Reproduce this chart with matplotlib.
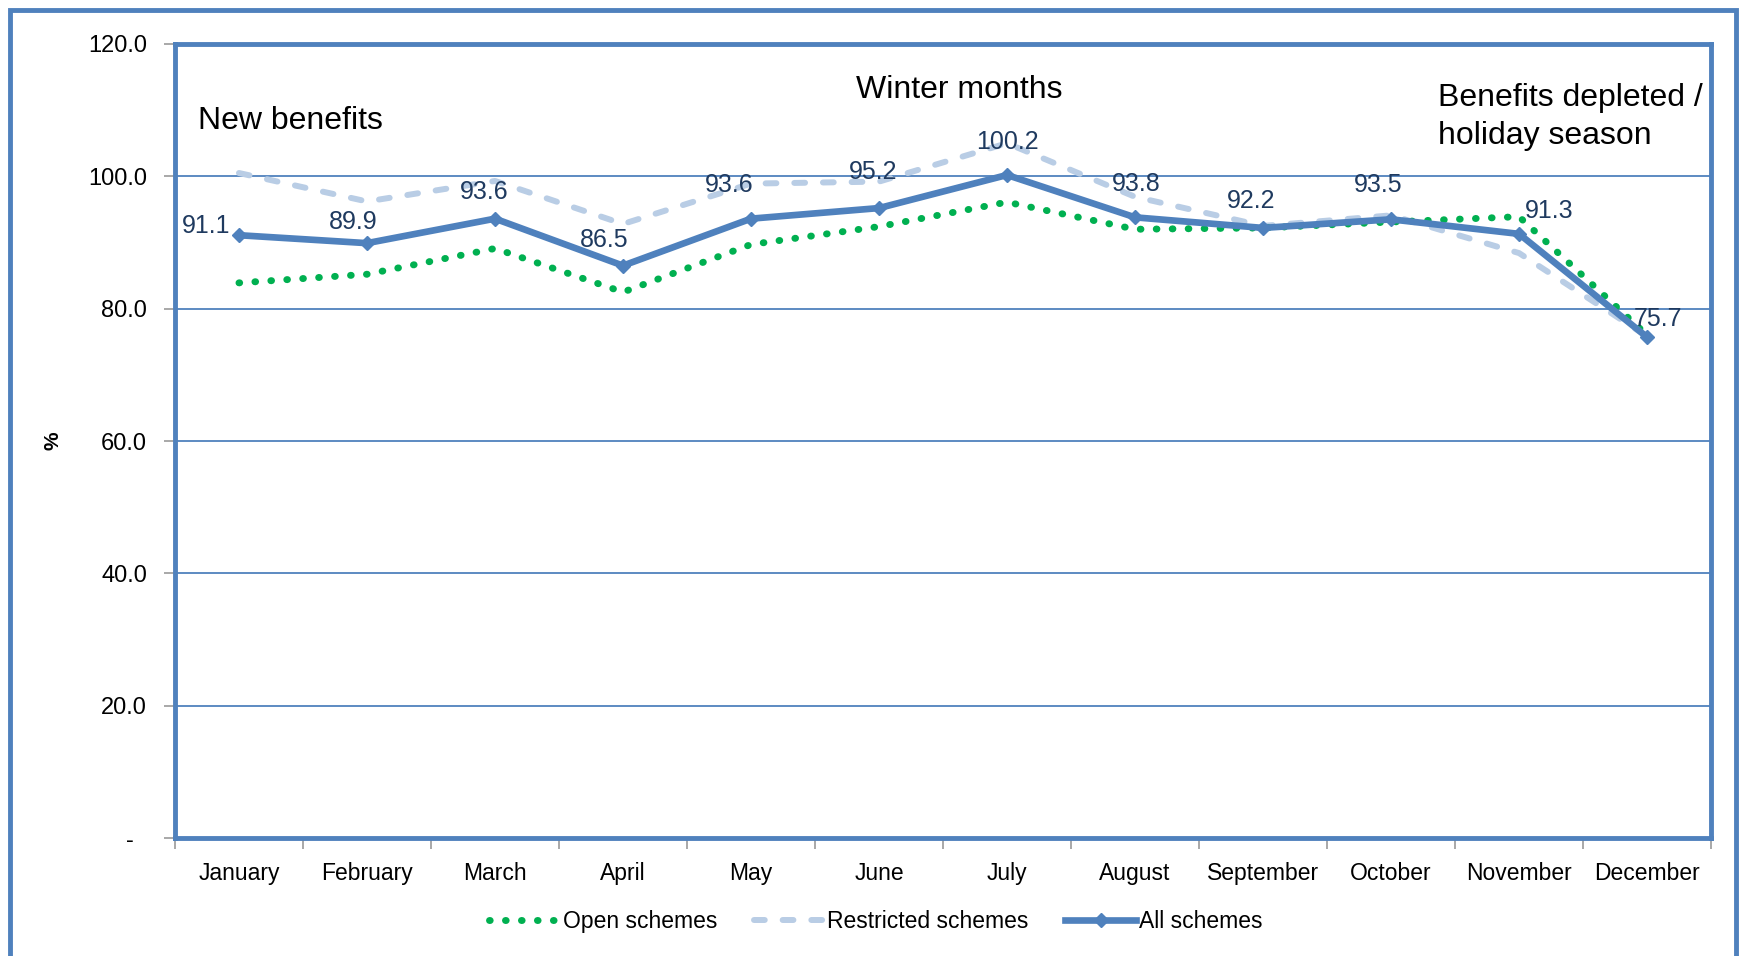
import matplotlib.pyplot as plt
import numpy as np
from matplotlib.patches import Rectangle

# values
months = ['January', 'February', 'March', 'April', 'May', 'June', 'July',
          'August', 'September', 'October', 'November', 'December']
open_schemes = [83.9, 85.2, 89.1, 82.5, 89.7, 92.4, 96.1, 92.0, 92.2, 93.1, 93.9, 76.0]
restricted_schemes = [100.5, 96.2, 99.3, 92.8, 98.9, 99.2, 105.0, 96.9, 92.5, 94.1, 88.4, 75.8]
all_schemes = [91.1, 89.9, 93.6, 86.5, 93.6, 95.2, 100.2, 93.8, 92.2, 93.5, 91.3, 75.7]
yticks = [0, 20, 40, 60, 80, 100, 120]
ytick_labels = ['-  ', '20.0', '40.0', '60.0', '80.0', '100.0', '120.0']

# label offsets (pixels) so the numbers sit where the original has them
label_offsets = [(-33, 9), (-14, 21), (-11, 27), (-19, 26), (-22, 34), (-6, 36),
                 (0, 33), (1, 33), (-12, 27), (-13, 34), (30, 23), (11, 18)]

plt.rcParams['font.family'] = ['Liberation Sans', 'DejaVu Sans']

blue = '#4F81BD'
light_blue = '#B9CDE5'
green = '#00B050'
navy = '#1F3A5F'

fig = plt.figure(figsize=(17.41, 9.56), dpi=100)
ax = fig.add_axes([0.1005, 0.1234, 0.8823, 0.8306])

x = np.arange(len(months))
ax.plot(x, open_schemes, color=green, lw=5, linestyle=(0, (0.1, 2.2)),
        dash_capstyle='round', label='Open schemes', zorder=3)
ax.plot(x, restricted_schemes, color=light_blue, lw=4.3, linestyle=(0, (1.8, 3.0)),
        dash_capstyle='round', label='Restricted schemes', zorder=2)
ax.plot(x, all_schemes, color=blue, lw=4.8, marker='D', markersize=7,
        solid_joinstyle='miter', label='All schemes', zorder=4)

for xi, v, off in zip(x, all_schemes, label_offsets):
    ax.annotate(f'{v:.1f}', (xi, v), xytext=off, textcoords='offset pixels',
                ha='center', va='center', fontsize=18, color=navy, zorder=5)

ax.set_xlim(-0.5, 11.5)
ax.set_ylim(0, 120)
ax.set_yticks(yticks)
ax.set_yticklabels(ytick_labels, fontsize=17)
ax.set_xticks(np.arange(-0.5, 12, 1))
ax.set_xticklabels([])
ax.set_xticks(x, minor=True)
ax.set_xticklabels(months, minor=True, fontsize=16.5)
ax.tick_params(axis='x', which='minor', length=0, pad=17)
ax.tick_params(axis='x', which='major', length=8, width=1.2, color='#999999')
ax.tick_params(axis='y', length=8, width=1.2, color='#999999', pad=12)
ax.yaxis.grid(True, color=blue, lw=1.3)
ax.set_axisbelow(True)
for sp in ax.spines.values():
    sp.set_color(blue)
    sp.set_linewidth(3.5)
ax.set_ylabel('%', fontsize=15, fontweight='bold')
ax.yaxis.set_label_coords(-0.073, 0.5)

ax.text(-0.32, 108.4, 'New benefits', fontsize=23, ha='left', va='center')
ax.text(5.63, 113.1, 'Winter months', fontsize=23, ha='center', va='center')
ax.text(9.37, 108.9, 'Benefits depleted /\nholiday season', fontsize=23,
        ha='left', va='center', linespacing=1.35)

fig.legend(loc='center', bbox_to_anchor=(0.503, 0.036), ncol=3, frameon=False,
           fontsize=16.5, handlelength=3.1, handletextpad=0.1, columnspacing=1.6)

# outer frame around the whole chart
fig.patches.append(Rectangle((0.0055, -0.05), 0.9915, 1.04, transform=fig.transFigure,
                             fill=False, edgecolor=blue, lw=3.5))

fig.savefig('out.png', dpi=100)
